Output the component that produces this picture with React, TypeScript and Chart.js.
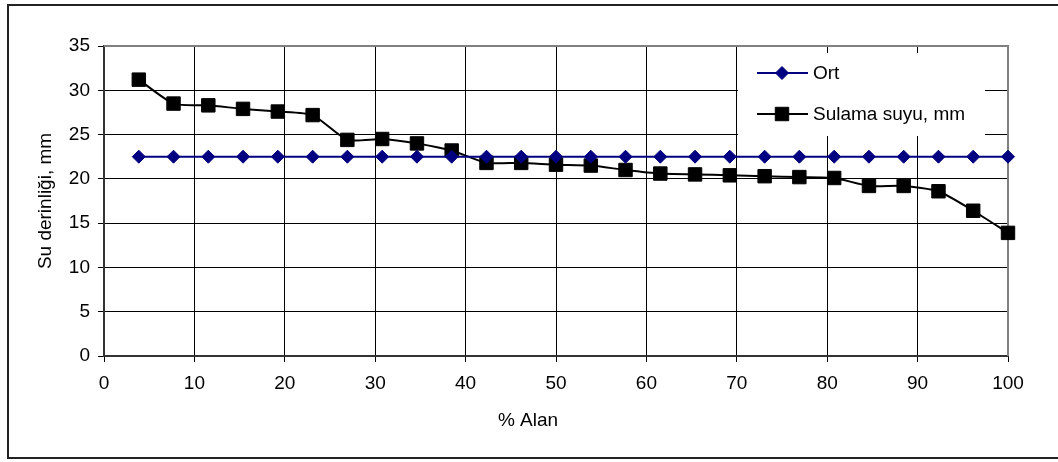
import React, { useEffect, useRef } from 'react';
import { Chart, registerables } from 'chart.js';

Chart.register(...registerables);

// % area (x) for each observation
const areaPercent = [
  3.85, 7.69, 11.54, 15.38, 19.23, 23.08, 26.92, 30.77, 34.62, 38.46, 42.31, 46.15, 50,
  53.85, 57.69, 61.54, 65.38, 69.23, 73.08, 76.92, 80.77, 84.62, 88.46, 92.31, 96.15, 100,
];

// Sulama suyu, mm
const sulamaSuyu = [
  31.2, 28.5, 28.3, 27.9, 27.6, 27.2, 24.4, 24.5, 24.0, 23.2, 21.8, 21.8, 21.6,
  21.5, 21.0, 20.6, 20.5, 20.4, 20.3, 20.2, 20.1, 19.2, 19.2, 18.6, 16.4, 13.9,
];

// Ort (average)
const ortalama = [
  22.5, 22.5, 22.5, 22.5, 22.5, 22.5, 22.5, 22.5, 22.5, 22.5, 22.5, 22.5, 22.5,
  22.5, 22.5, 22.5, 22.5, 22.5, 22.5, 22.5, 22.5, 22.5, 22.5, 22.5, 22.5, 22.5,
];

const seriesLabels = ['Ort', 'Sulama suyu, mm'];
const xAxisTitle = '% Alan';
const yAxisTitle = 'Su derinliği, mm';
const xRange = [0, 100, 10];
const yRange = [0, 35, 5];

const FONT = "'Liberation Sans', Arial, sans-serif";
const FONT_SIZE = 19;

export default function App() {
  const ref = useRef<HTMLCanvasElement>(null);

  useEffect(() => {
    document.body.style.margin = '0';
    const canvas = ref.current;
    if (!canvas) return;

    const drawMarker = (ctx: CanvasRenderingContext2D, style: string, x: number, y: number, r: number, color: string) => {
      ctx.save();
      ctx.fillStyle = color;
      ctx.strokeStyle = color;
      ctx.lineWidth = 1;
      ctx.beginPath();
      if (style === 'rectRot') {
        ctx.moveTo(x - r, y);
        ctx.lineTo(x, y - r);
        ctx.lineTo(x + r, y);
        ctx.lineTo(x, y + r);
      } else {
        const s = r * Math.SQRT1_2;
        ctx.rect(x - s, y - s, 2 * s, 2 * s);
      }
      ctx.closePath();
      ctx.fill();
      ctx.stroke();
      ctx.restore();
    };

    const decorPlugin = {
      id: 'decor',
      beforeDatasetsDraw(chart: any) {
        const { ctx, chartArea: a } = chart;
        ctx.save();
        ctx.strokeStyle = '#808080';
        ctx.lineWidth = 2;
        ctx.beginPath();
        ctx.moveTo(a.left, a.top);
        ctx.lineTo(a.right, a.top);
        ctx.lineTo(a.right, a.bottom);
        ctx.stroke();
        ctx.restore();
      },
      afterDraw(chart: any) {
        const { ctx, chartArea: a } = chart;
        ctx.save();
        // outer frame
        ctx.strokeStyle = '#222';
        ctx.lineWidth = 2;
        ctx.strokeRect(8, 5, 1070, 453);

        // axis titles
        ctx.fillStyle = '#000';
        ctx.font = `${FONT_SIZE}px ${FONT}`;
        ctx.textAlign = 'center';
        ctx.textBaseline = 'middle';
        ctx.fillText(xAxisTitle, 528, 421);
        ctx.save();
        ctx.translate(46, (a.top + a.bottom) / 2);
        ctx.rotate(-Math.PI / 2);
        ctx.fillText(yAxisTitle, 0, 0);
        ctx.restore();

        // legend
        const lx = 738, ly = 53, lw = 247, lh = 83;
        ctx.fillStyle = '#fff';
        ctx.fillRect(lx, ly, lw, lh);
        const rows = [73, 114];
        chart.data.datasets.forEach((ds: any, i: number) => {
          const y = rows[i];
          ctx.strokeStyle = ds.borderColor;
          ctx.lineWidth = ds.borderWidth;
          ctx.beginPath();
          ctx.moveTo(757, y);
          ctx.lineTo(808, y);
          ctx.stroke();
          drawMarker(ctx, ds.pointStyle, 782, y, ds.pointRadius, ds.pointBackgroundColor);
          ctx.fillStyle = '#000';
          ctx.textAlign = 'left';
          ctx.textBaseline = 'middle';
          ctx.font = `${FONT_SIZE}px ${FONT}`;
          ctx.fillText(ds.label, 813, y + 1);
        });
        ctx.restore();
      },
    };

    const chart = new Chart(canvas, {
      type: 'line',
      data: {
        datasets: [
          {
            label: seriesLabels[0],
            data: areaPercent.map((x, i) => ({ x, y: ortalama[i] })),
            borderColor: '#000080',
            backgroundColor: '#000080',
            pointBackgroundColor: '#000080',
            pointBorderColor: '#000080',
            borderWidth: 2,
            pointStyle: 'rectRot',
            pointRadius: 6.5,
            pointBorderWidth: 1,
            tension: 0,
            clip: false,
          },
          {
            label: seriesLabels[1],
            data: areaPercent.map((x, i) => ({ x, y: sulamaSuyu[i] })),
            borderColor: '#000000',
            backgroundColor: '#000000',
            pointBackgroundColor: '#000000',
            pointBorderColor: '#000000',
            borderWidth: 2,
            pointStyle: 'rect',
            pointRadius: 9.5,
            pointBorderWidth: 1,
            tension: 0.2,
            clip: false,
          },
        ],
      },
      options: {
        animation: false,
        responsive: false,
        devicePixelRatio: 1,
        layout: { padding: { left: 0, top: 46, right: 50, bottom: 0 } },
        plugins: {
          legend: { display: false },
          title: { display: false },
          tooltip: { enabled: false },
        },
        scales: {
          x: {
            type: 'linear',
            min: xRange[0],
            max: xRange[1],
            afterFit: (s: any) => { s.height = 106; },
            ticks: {
              stepSize: xRange[2],
              color: '#000',
              font: { family: FONT, size: FONT_SIZE },
              padding: 10,
              maxRotation: 0,
            },
            grid: { color: '#000', lineWidth: 1, tickLength: 6, drawTicks: true },
            border: { display: true, color: '#333', width: 2 },
          },
          y: {
            type: 'linear',
            min: yRange[0],
            max: yRange[1],
            afterFit: (s: any) => { s.width = 104; },
            ticks: {
              stepSize: yRange[2],
              color: '#000',
              font: { family: FONT, size: FONT_SIZE },
              padding: 8,
            },
            grid: { color: '#000', lineWidth: 1, tickLength: 6, drawTicks: true },
            border: { display: true, color: '#333', width: 2 },
          },
        },
      },
      plugins: [decorPlugin],
    });

    return () => chart.destroy();
  }, []);

  return (
    <div style={{ width: 1058, height: 462, background: '#fff' }}>
      <canvas ref={ref} width={1058} height={462} style={{ display: 'block' }} />
    </div>
  );
}
